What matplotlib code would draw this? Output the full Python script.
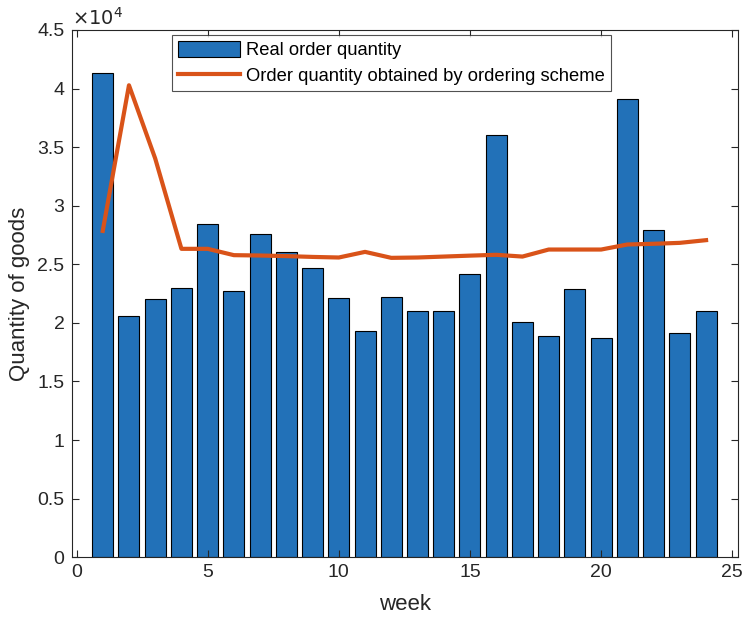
import numpy as np
import matplotlib.pyplot as plt
from matplotlib.ticker import FuncFormatter

plt.rcParams['font.family'] = ['Liberation Sans', 'DejaVu Sans']

weeks = np.arange(1, 25)
real_qty = [41330, 20630, 22000, 22990, 28400, 22730, 27570, 26030, 24690, 22110,
            19320, 22220, 21000, 21020, 24130, 36010, 20090, 18890, 22930, 18720,
            39090, 27910, 19150, 21020]
scheme_qty = [27850, 40280, 34030, 26320, 26320, 25780, 25750, 25700, 25630, 25580,
              26060, 25550, 25580, 25660, 25740, 25810, 25660, 26260, 26260, 26260,
              26690, 26750, 26830, 27060]

fig = plt.figure(figsize=(7.45, 6.24), dpi=100)
ax = fig.add_axes([0.096, 0.107, 0.894, 0.845])

bars = ax.bar(weeks, real_qty, 0.8, color='#2271B8', edgecolor='black', linewidth=0.8)
line, = ax.plot(weeks, scheme_qty, color='#D95319', linewidth=3)

ax.set_xlim(-0.19, 25.2)
ax.set_ylim(0, 45000)
ax.set_xticks([0, 5, 10, 15, 20, 25])
ax.set_yticks(np.arange(0, 45001, 5000))
ax.yaxis.set_major_formatter(FuncFormatter(lambda v, p: f'{v/1e4:g}'))
ax.tick_params(direction='in', top=True, right=True, labelsize=14,
               colors='#262626', length=5, width=0.8, pad=5)
for s in ax.spines.values():
    s.set_color('#262626')
    s.set_linewidth(0.8)

ax.text(0, 1.003, r'$\times10^{4}$', transform=ax.transAxes, fontsize=14,
        color='#262626', va='bottom', ha='left')

ax.set_xlabel('week', fontsize=16, color='#262626', labelpad=9)
ax.set_ylabel('Quantity of goods', fontsize=16, color='#262626', labelpad=5)

leg = ax.legend([bars, line],
                ['Real order quantity', 'Order quantity obtained by ordering scheme'],
                loc='upper left', bbox_to_anchor=(0.151, 0.99), fontsize=13.2,
                frameon=True, fancybox=False, edgecolor='#262626',
                borderpad=0.33, labelspacing=0.38, handlelength=3.4,
                handleheight=0.95, handletextpad=0.3, borderaxespad=0)
leg.get_frame().set_linewidth(0.8)

fig.savefig('out.png', dpi=100)
